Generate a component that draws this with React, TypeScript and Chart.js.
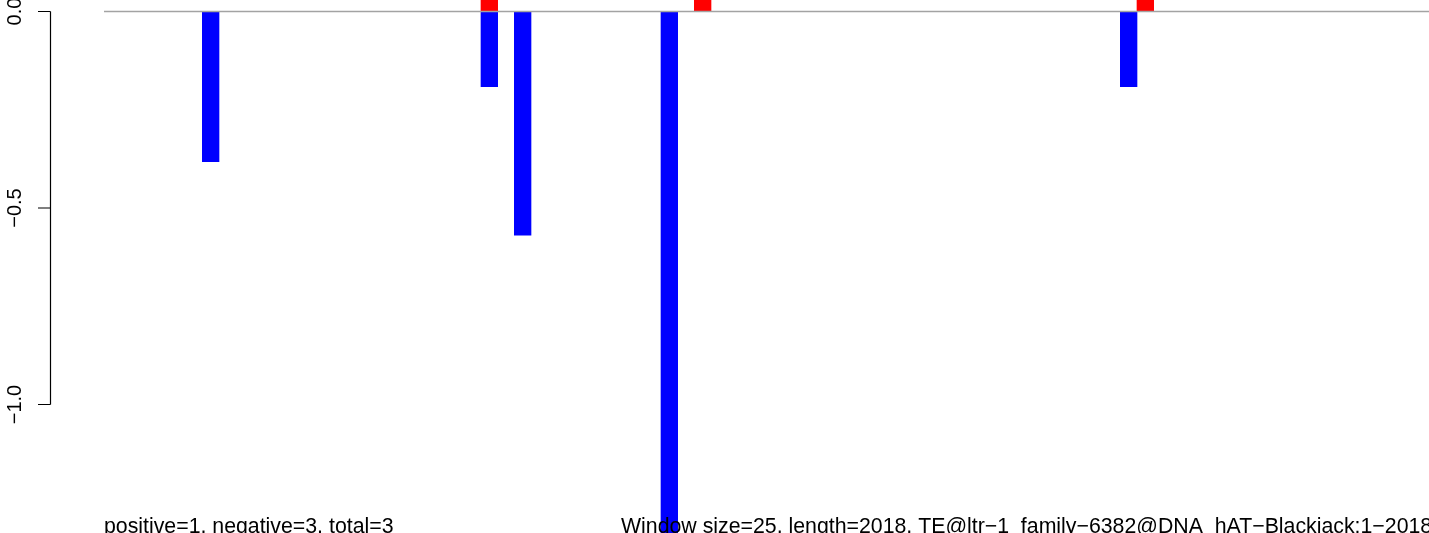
import React, { useEffect, useRef } from "react";
import { Chart, registerables } from "chart.js";

Chart.register(...registerables);

// Window positions (bp, window centres) and scores
const negPositions = [160, 578, 628, 848, 1537];
const negValues = [-0.382, -0.191, -0.569, -1.4, -0.191];
const posPositions = [578, 898, 1562];
const posValues = [0.19, 0.19, 0.19];

const yTickValues = [0, -0.5, -1.0];
const yTickLabels = ["0.0", "\u22120.5", "\u22121.0"];

const leftNote = "positive=1, negative=3, total=3";
const rightNote = "Window size=25, length=2018, TE@ltr\u22121_family\u22126382@DNA_hAT\u2212Blackjack:1\u22122018";

const FONT = "'Liberation Sans', Arial, Helvetica, sans-serif";

const overlay = {
  id: "rOverlay",
  afterDatasetsDraw(chart: any) {
    const ctx = chart.ctx;
    const y = chart.scales.y;
    const area = chart.chartArea;
    const y0 = y.getPixelForValue(0);
    ctx.save();
    ctx.strokeStyle = "#a3a3a3";
    ctx.lineWidth = 1.5;
    ctx.beginPath();
    ctx.moveTo(area.left, y0);
    ctx.lineTo(area.right, y0);
    ctx.stroke();
    ctx.restore();
  },
  afterDraw(chart: any) {
    const ctx = chart.ctx;
    const y = chart.scales.y;
    ctx.save();
    const axisX = 50.5;
    const top = y.getPixelForValue(yTickValues[0]);
    const bottom = y.getPixelForValue(yTickValues[yTickValues.length - 1]);
    ctx.strokeStyle = "#000";
    ctx.lineWidth = 1.2;
    ctx.beginPath();
    ctx.moveTo(axisX, top);
    ctx.lineTo(axisX, bottom);
    yTickValues.forEach((v) => {
      const py = y.getPixelForValue(v);
      ctx.moveTo(38, py);
      ctx.lineTo(axisX, py);
    });
    ctx.stroke();
    ctx.fillStyle = "#000";
    ctx.font = `20px ${FONT}`;
    ctx.textAlign = "center";
    ctx.textBaseline = "alphabetic";
    yTickValues.forEach((v, i) => {
      const py = y.getPixelForValue(v);
      ctx.save();
      ctx.translate(21, py);
      ctx.rotate(-Math.PI / 2);
      ctx.fillText(yTickLabels[i], 0, 0);
      ctx.restore();
    });
    ctx.font = `21.3px ${FONT}`;
    ctx.textAlign = "left";
    ctx.fillText(leftNote, 104, 533);
    ctx.fillText(rightNote, 621, 533);
    ctx.restore();
  },
};

export default function App() {
  const ref = useRef<HTMLCanvasElement | null>(null);
  useEffect(() => {
    if (!ref.current) return;
    const chart = new Chart(ref.current, {
      type: "bar",
      data: {
        datasets: [
          {
            label: "negative",
            data: negPositions.map((x, i) => ({ x, y: negValues[i] })),
            backgroundColor: "#0000ff",
            borderWidth: 0,
            barThickness: 16.67,
            grouped: false,
          } as any,
          {
            label: "positive",
            data: posPositions.map((x, i) => ({ x, y: posValues[i] })),
            backgroundColor: "#ff0000",
            borderWidth: 0,
            barThickness: 16.67,
            grouped: false,
          } as any,
        ],
      },
      options: {
        animation: false,
        responsive: false,
        maintainAspectRatio: false,
        layout: { padding: { left: 104, right: 0, top: 0, bottom: 0 } },
        plugins: {
          legend: { display: false },
          tooltip: { enabled: false },
          title: { display: false },
        },
        scales: {
          x: { type: "linear", min: 0, max: 1987.5, display: false, offset: false },
          y: { type: "linear", min: -1.327, max: 0.0293, display: false },
        },
      },
      plugins: [overlay],
    });
    return () => chart.destroy();
  }, []);
  return (
    <div style={{ position: "fixed", left: 0, top: 0, width: 1429, height: 533, background: "#fff" }}>
      <canvas ref={ref} width={1429} height={533} style={{ display: "block" }} />
    </div>
  );
}
